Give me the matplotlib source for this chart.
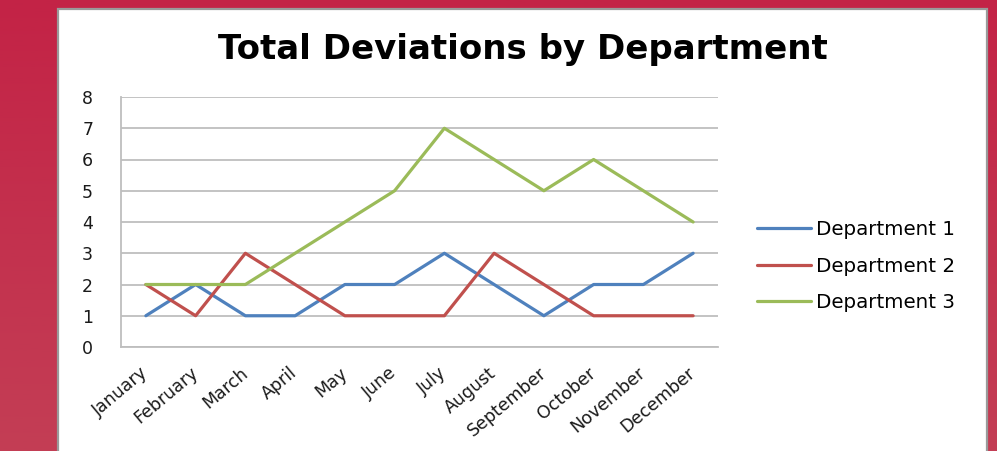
import matplotlib
matplotlib.use('Agg')
import matplotlib.pyplot as plt
import numpy as np
from matplotlib.patches import Rectangle

months = ['January', 'February', 'March', 'April', 'May', 'June', 'July',
          'August', 'September', 'October', 'November', 'December']
dept1 = [1, 2, 1, 1, 2, 2, 3, 2, 1, 2, 2, 3]
dept2 = [2, 1, 3, 2, 1, 1, 1, 3, 2, 1, 1, 1]
dept3 = [2, 2, 2, 3, 4, 5, 7, 6, 5, 6, 5, 4]
names = ['Department 1', 'Department 2', 'Department 3']
colors = ['#4F81BD', '#C0504D', '#9BBB59']

W, H = 997, 451
fig = plt.figure(figsize=(W / 100, H / 100), dpi=100)

# red background, slightly lighter towards the bottom
bg = fig.add_axes([0, 0, 1, 1])
grad = np.linspace(0, 1, 256).reshape(-1, 1)
top = np.array([0xC3, 0x23, 0x46]) / 255
bot = np.array([0xC3, 0x3E, 0x55]) / 255
img = top + (bot - top) * grad[:, :, None]
bg.imshow(img, aspect='auto', extent=[0, W, H, 0])
bg.set_xlim(0, W)
bg.set_ylim(H, 0)
bg.axis('off')
# white chart box
bg.add_patch(Rectangle((58, 9), 929, 460, facecolor='white',
                       edgecolor='#9A9A9A', linewidth=1.6))

fig.text(523 / W, 1 - 49 / H, 'Total Deviations by Department',
         ha='center', va='center', fontsize=24.5, fontweight='bold',
         family='DejaVu Sans', color='black')

ax = fig.add_axes([121 / W, 104 / H, 597 / W, 250 / H])
x = np.arange(len(months))
for vals, c, n in zip([dept1, dept2, dept3], colors, names):
    ax.plot(x, vals, color=c, linewidth=2.3, label=n, solid_capstyle='round')

ax.set_xlim(-0.5, len(months) - 0.5)
ax.set_ylim(0, 8)
ax.set_yticks(range(0, 9))
ax.yaxis.grid(True, color='#BEBEBE', linewidth=1.3)
ax.set_axisbelow(True)
for s in ['top', 'right']:
    ax.spines[s].set_visible(False)
ax.spines['left'].set_color('#BEBEBE')
ax.spines['bottom'].set_color('#BEBEBE')
ax.spines['left'].set_linewidth(1.3)
ax.spines['bottom'].set_linewidth(1.3)
ax.tick_params(length=0, labelsize=12.5, colors='#1a1a1a')
ax.set_xticks(x)
ax.set_xticklabels(months, rotation=40, ha='right', va='center',
                   rotation_mode='anchor')
ax.tick_params(axis='x', pad=17)
ax.tick_params(axis='y', pad=24)
for t in ax.get_yticklabels():
    t.set_ha('center')

leg = ax.legend(loc='center left', bbox_to_anchor=(1.052, 0.324), frameon=False,
                fontsize=14.3, handlelength=2.7, handletextpad=0.26,
                labelspacing=0.88, borderaxespad=0)

fig.savefig('out.png', dpi=100)
